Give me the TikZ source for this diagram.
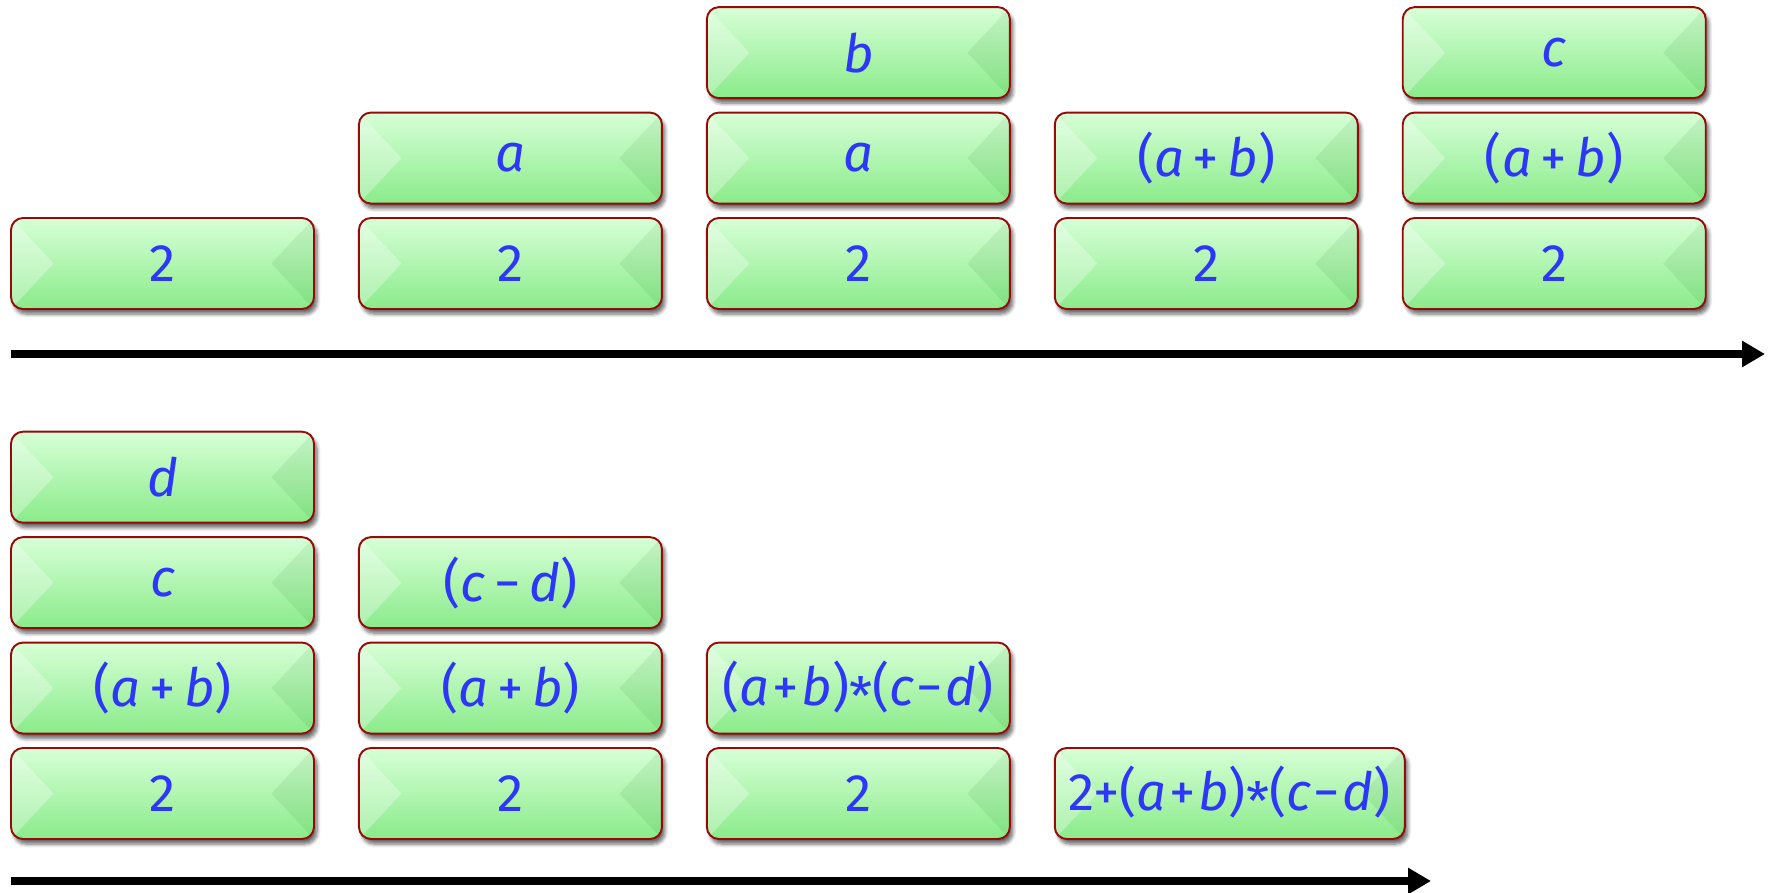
\documentclass[tikz,border=0pt]{standalone}
\usepackage{fontspec}
\setmainfont{Fira Sans}
\usepackage{tikz}
\usetikzlibrary{positioning}
\usetikzlibrary{arrows.meta}
\usetikzlibrary{shadows.blur}
\usepackage{xcolor}
\definecolor{cellred}{RGB}{150,10,10}
\definecolor{celltop}{RGB}{215,255,215}
\definecolor{cellmid}{RGB}{152,250,152}
\definecolor{cellbot}{RGB}{138,235,138}
\definecolor{cellblue}{RGB}{45,55,250}
\newcommand{\opt}{\raisebox{-0.35ex}{*}}
\newcommand{\opp}{\,+\,}
\newcommand{\opm}{\,−\,}
\newcommand{\oppn}{\kern1.5pt+\kern1.5pt}
\newcommand{\opmn}{\kern1.5pt−\kern1.5pt}

\tikzset{
  cell/.style={draw=cellred, line width=1.1pt, rounded corners=0.24cm,
    top color=celltop, middle color=cellmid, bottom color=cellbot,
    minimum width=6.06cm, minimum height=1.82cm, inner sep=0pt,
    text=cellblue, font=\fontsize{30}{36}\selectfont,
    blur shadow={shadow xshift=0.06cm, shadow yshift=-0.1cm, shadow opacity=60, shadow blur steps=6},
    path picture={
      \fill[sharp corners, white, opacity=0.3] (path picture bounding box.north west) -- ++(0.85,-0.91) -- (path picture bounding box.south west) -- cycle;
      \fill[sharp corners, green!40!black, opacity=0.08] (path picture bounding box.north east) -- ++(-0.85,-0.91) -- (path picture bounding box.south east) -- cycle;
    }},
  time/.style={line width=4pt, -{Triangle[length=0.46cm, width=0.5cm]}}
}

\begin{document}
\begin{tikzpicture}[node distance = 0.25cm and 0.86cm]
\useasboundingbox (0,0) rectangle (35.48,-17.84);

% first line of steps
\node[cell] (s1a) at (3.25,-5.27) {2};
\node[cell, right = of s1a] (s2a) {2};
\node[cell, above = of s2a] (s2b) {\textit{a}};
\node[cell, right = of s2a] (s3a) {2};
\node[cell, above = of s3a] (s3b) {\textit{a}};
\node[cell, above = of s3b] (s3c) {\textit{b}};
\node[cell, right = of s3a] (s4a) {2};
\node[cell, above = of s4a] (s4b) {(\textit{a}\opp\textit{b})};
\node[cell, right = of s4a] (s5a) {2};
\node[cell, above = of s5a] (s5b) {(\textit{a}\opp\textit{b})};
\node[cell, above = of s5b] (s5c) {\textit{c}};

\coordinate (t1s) at (0.22,-7.08);
\coordinate (t1e) at (35.3,-7.08);
\draw[time] (t1s) -- (t1e);

% second line of steps
\node[cell] (s6a) at (3.25,-15.87) {2};
\node[cell, above = of s6a] (s6b) {(\textit{a}\opp\textit{b})};
\node[cell, above = of s6b] (s6c) {\textit{c}};
\node[cell, above = of s6c] (s6d) {\textit{d}};
\node[cell, right = of s6a] (s7a) {2};
\node[cell, above = of s7a] (s7b) {(\textit{a}\opp\textit{b})};
\node[cell, above = of s7b] (s7c) {(\textit{c}\opm\textit{d})};
\node[cell, right = of s7a] (s8a) {2};
\node[cell, above = of s8a] (s8b) {(\textit{a}\oppn\textit{b})\opt(\textit{c}\opmn\textit{d})};
\node[cell, right = of s8a, minimum width=7cm] (s9a) {2+(\textit{a}\oppn\textit{b})\opt(\textit{c}\opmn\textit{d})};

\coordinate (t2s) at (0.22,-17.62);
\coordinate (t2e) at (28.62,-17.62);
\draw[time] (t2s) -- (t2e);
\end{tikzpicture}
\end{document}
